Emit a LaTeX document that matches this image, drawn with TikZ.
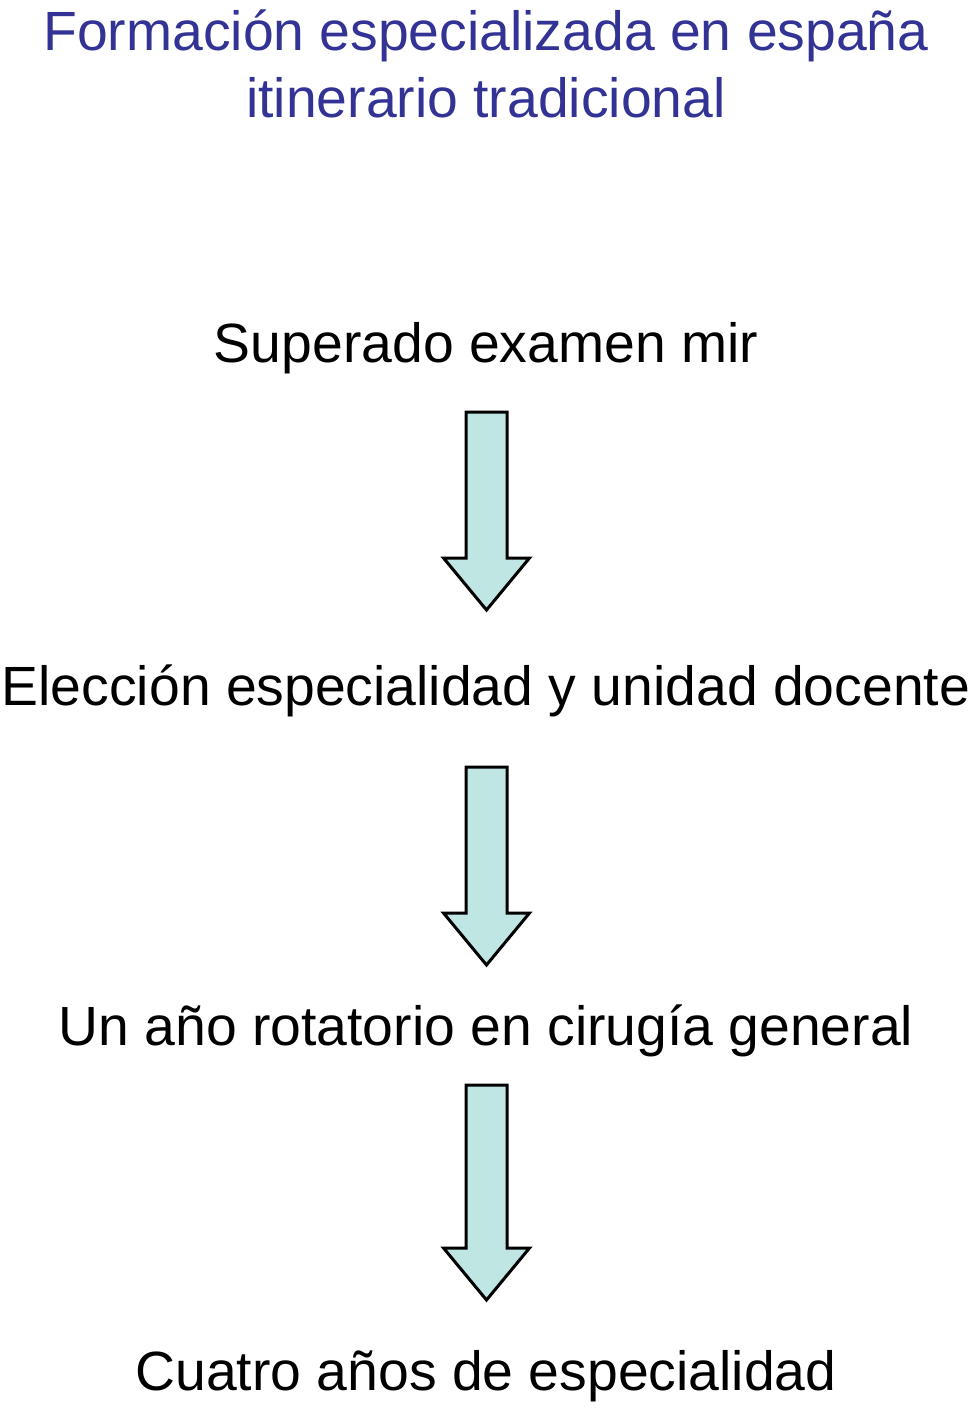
\documentclass[tikz,border=0pt]{standalone}
\usepackage{fontspec}
\setmainfont{Liberation Sans}
\definecolor{titleblue}{RGB}{51,51,150}
\definecolor{arrowfill}{RGB}{192,230,228}
\newcommand{\blockarrow}[3]{% x, top y, tip y
  \draw[arrowstyle] (#1-20.5,#2) -- (#1+20.5,#2) -- (#1+20.5,#3-52) -- (#1+43,#3-52) -- (#1,#3) -- (#1-43,#3-52) -- (#1-20.5,#3-52) -- cycle;}
\begin{document}
\begin{tikzpicture}[x=1pt,y=-1pt,
  lbl/.style={anchor=base,inner sep=0pt,font=\fontsize{55.3}{66}\selectfont},
  ttl/.style={lbl,text=titleblue},
  arrowstyle/.style={draw=black,line width=3pt,fill=arrowfill,line join=miter}]
\useasboundingbox (0,0) rectangle (973,1416);
\node[ttl] (title1) at (486,50) {Formación especializada en españa};
\node[ttl] (title2) at (486,117) {itinerario tradicional};
\node[lbl] (s1) at (486,362) {Superado examen mir};
\node[lbl] (s2) at (486,705) {Elección especialidad y unidad docente};
\node[lbl] (s3) at (486,1045) {Un año rotatorio en cirugía general};
\node[lbl] (s4) at (486,1390) {Cuatro años de especialidad};
\blockarrow{486.5}{412}{610}
\blockarrow{486.5}{767}{965}
\blockarrow{486.5}{1085}{1300}
\end{tikzpicture}
\end{document}
